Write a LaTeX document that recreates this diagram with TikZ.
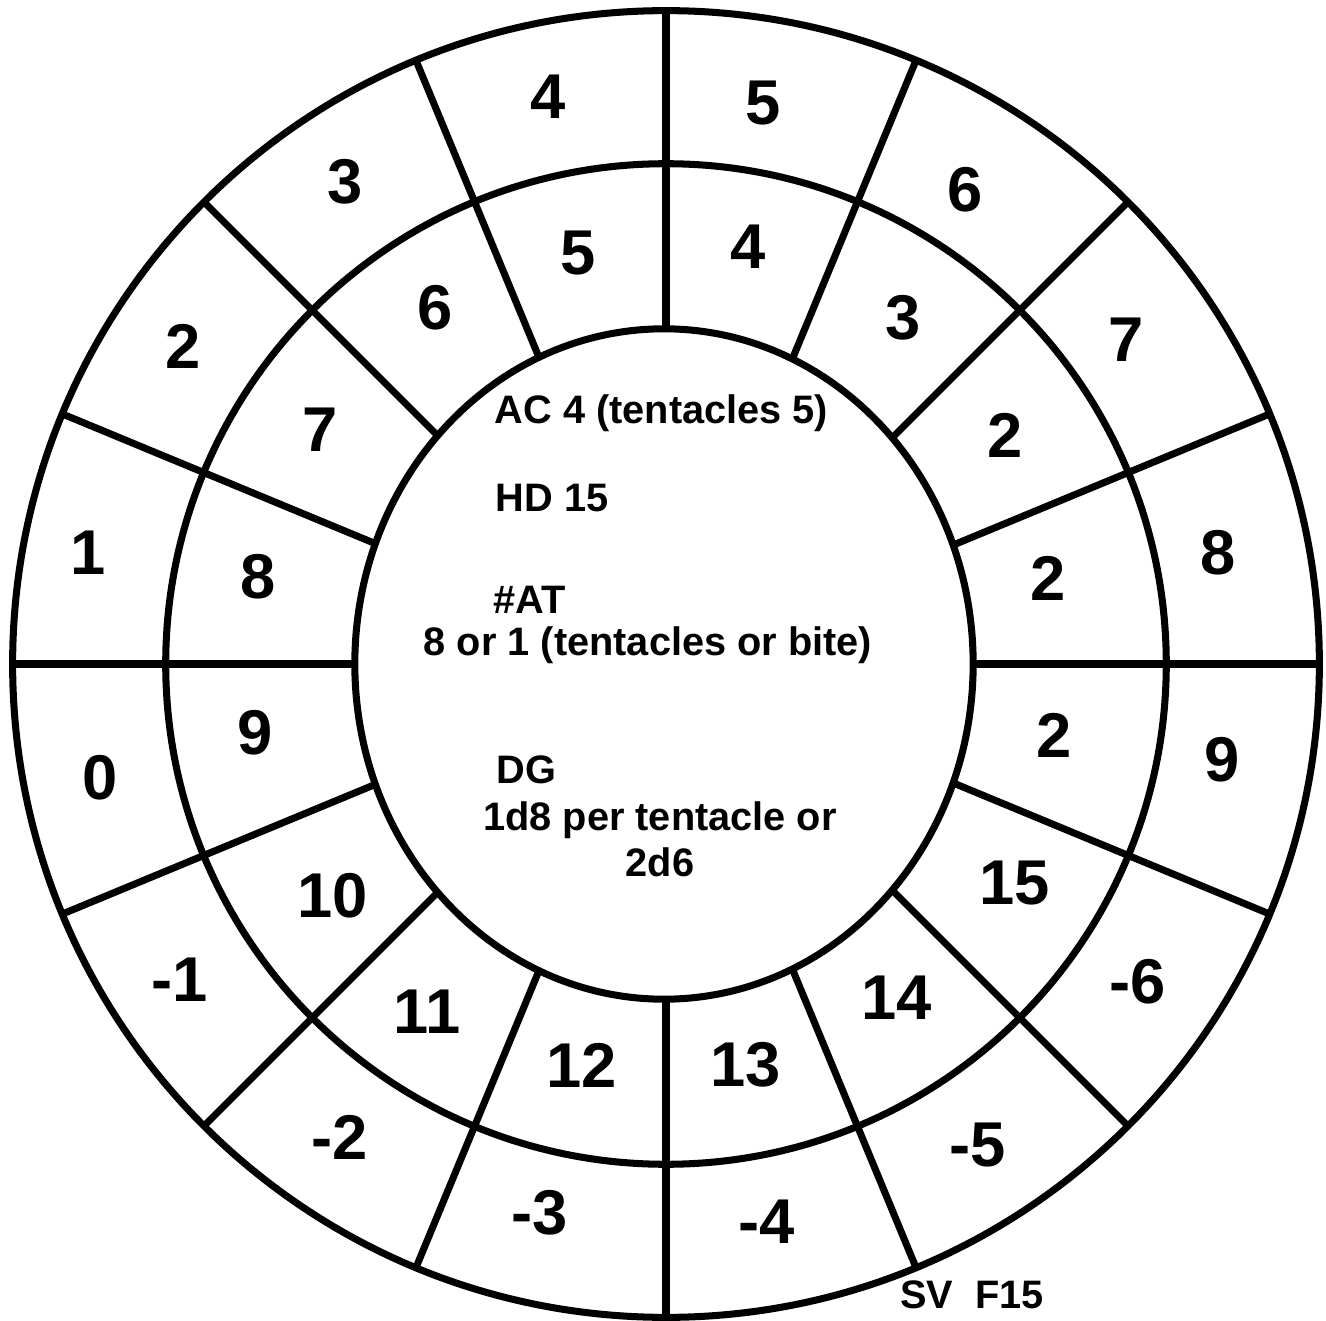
\documentclass[tikz,border=0pt]{standalone}
\usepackage{fontspec}
\setmainfont{Liberation Sans}
\usetikzlibrary{positioning}

\begin{document}
\begin{tikzpicture}[x=0.01cm, y=-0.01cm,
  ring/.style={line width=2pt},
  numlbl/.style={font=\fontsize{18}{20}\selectfont\bfseries, inner sep=0pt},
  infotxt/.style={font=\fontsize{11.3}{13}\selectfont\bfseries, inner sep=0pt},
]
\useasboundingbox (0,0) rectangle (1326,1321);

% --- Spokes first, the hub covers their inner ends ---
\coordinate (c) at (666,664);
\foreach \a in {0,22.5,...,337.5}
  \draw[ring] (c) -- ([shift={(\a:6.53cm)}]c);

% --- Rings ---
\draw[ring] (c) circle[radius=6.53cm];
\draw[ring] (c) circle[radius=5.0cm];
\draw[ring, fill=white] (664,664) ellipse[x radius=3.09cm, y radius=3.35cm];

% --- Outer ring numbers ---
\foreach \lab/\x/\y [count=\i] in {4/548/97, 5/763/103, 6/965/190, 7/1126/340,
    8/1218/553, 9/1222/760, -6/1138/982, -5/978/1145, -4/767/1222,
    -3/540/1213, -2/340/1137, -1/180/980, 0/100/778, 1/88/553,
    2/183/346, 3/345/182}
  \node[numlbl] (out\i) at (\x,\y) {\lab};

% --- Inner ring numbers ---
\foreach \lab/\x/\y [count=\i] in {5/578/253, 4/748/247, 3/903/318, 2/1005/435,
    2/1048/578, 2/1054/735, 15/1015/883, 14/897/998, 13/746/1065,
    12/582/1065, 11/427/1012, 10/333/896, 9/255/733, 8/258/577,
    7/320/430, 6/435/308}
  \node[numlbl] (in\i) at (\x,\y) {\lab};

% --- Stats in the centre ---
\node[infotxt, anchor=west] (ac) at (494,413) {AC 4 (tentacles 5)};
\node[infotxt, anchor=west] (hd) at (495,498) {HD 15};
\node[infotxt, anchor=west] (at) at (493,600) {\#AT};
\node[infotxt] (atval) at (648,645) {8 or 1 (tentacles or bite)};
\node[infotxt, anchor=west] (dg) at (496,770) {DG};
\node[infotxt] (dgval) at (660,820) {1d8 per tentacle or};
\node[infotxt] (dgalt) at (660,862) {2d6};

% --- Save ---
\node[infotxt] (sv) at (972,1295) {SV\ \ F15};
\end{tikzpicture}
\end{document}
